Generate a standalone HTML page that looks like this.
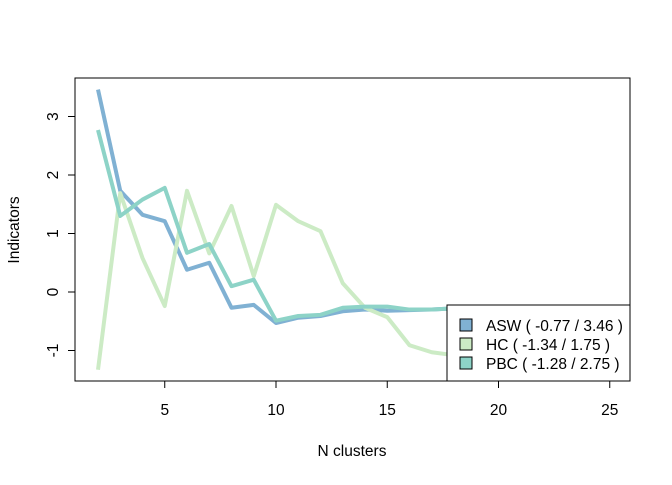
<!DOCTYPE html>
<html><head><meta charset="utf-8"><style>
body{margin:0;background:#fff}
svg text{font-family:"Liberation Sans",Arial,sans-serif;font-size:15.5px;fill:#000}
</style></head><body>
<svg id="chart" width="672" height="480" xmlns="http://www.w3.org/2000/svg">
<rect x="0" y="0" width="672" height="480" fill="#fff"/>
<g id="marks"></g>
<rect x="75" y="78" width="555" height="303" fill="none" stroke="#000"/>
<g id="axes"></g>
<text x="352" y="456" text-anchor="middle">N clusters</text>
<text transform="translate(19,230) rotate(-90)" text-anchor="middle">Indicators</text>
<g>
<rect x="447" y="305" width="183" height="76" fill="#fff" stroke="#000"/>
<g><rect x="460" y="319" width="12" height="12" fill="#80B1D3" stroke="#000"/><text x="486" y="331">ASW ( -0.77 / 3.46 )</text></g>
<g><rect x="460" y="338" width="12" height="12" fill="#CCEBC5" stroke="#000"/><text x="486" y="350">HC ( -1.34 / 1.75 )</text></g>
<g><rect x="460" y="357" width="12" height="12" fill="#8DD3C7" stroke="#000"/><text x="486" y="369">PBC ( -1.28 / 2.75 )</text></g>
</g>
</svg>
<script>
const clusters=[2,3,4,5,6,7,8,9,10,11,12,13,14,15,16,17,18,19,20,21,22,23,24,25];
const asw=[3.46,1.73,1.32,1.21,0.38,0.5,-0.27,-0.22,-0.53,-0.44,-0.41,-0.33,-0.3,-0.32,-0.31,-0.3,-0.28,-0.28,-0.27,-0.27,-0.27,-0.27,-0.27,-0.27];
const hc=[-1.33,1.69,0.58,-0.24,1.73,0.66,1.47,0.27,1.49,1.21,1.04,0.15,-0.27,-0.43,-0.91,-1.03,-1.08,-1.12,-1.15,-1.18,-1.2,-1.22,-1.24,-1.25];
const pbc=[2.77,1.3,1.58,1.78,0.67,0.82,0.1,0.21,-0.49,-0.41,-0.39,-0.27,-0.25,-0.25,-0.3,-0.3,-0.28,-0.28,-0.27,-0.27,-0.27,-0.27,-0.27,-0.27];
const xTicks=[5,10,15,20,25];
const yTicks=[-1,0,1,2,3];
const sx=v=>98+(v-2)*22.25;
const sy=v=>292-v*58.5;
const NS='http://www.w3.org/2000/svg';
const marks=document.getElementById('marks');
const axes=document.getElementById('axes');
function line(vals,color,name){
  const p=document.createElementNS(NS,'polyline');
  p.setAttribute('points',vals.map((v,i)=>sx(clusters[i])+','+sy(v)).join(' '));
  p.setAttribute('fill','none');p.setAttribute('stroke',color);p.setAttribute('stroke-width','4');
  p.setAttribute('stroke-linejoin','round');
  
  
  marks.appendChild(p);
}
line(asw,'#80B1D3','line-asw');
line(hc,'#CCEBC5','line-hc');
line(pbc,'#8DD3C7','line-pbc');
xTicks.forEach(t=>{
  const l=document.createElementNS(NS,'line');
  l.setAttribute('x1',sx(t));l.setAttribute('x2',sx(t));l.setAttribute('y1',381);l.setAttribute('y2',388);l.setAttribute('stroke','#000');
  
  
  axes.appendChild(l);
  const tx=document.createElementNS(NS,'text');
  tx.setAttribute('x',sx(t));tx.setAttribute('y',415);tx.setAttribute('text-anchor','middle');tx.textContent=t;
  
  
  axes.appendChild(tx);
});
yTicks.forEach(t=>{
  const l=document.createElementNS(NS,'line');
  l.setAttribute('x1',68);l.setAttribute('x2',75);l.setAttribute('y1',sy(t));l.setAttribute('y2',sy(t));l.setAttribute('stroke','#000');
  
  
  axes.appendChild(l);
  const tx=document.createElementNS(NS,'text');
  tx.setAttribute('transform','translate(58,'+sy(t)+') rotate(-90)');tx.setAttribute('text-anchor','middle');tx.textContent=t;
  
  
  axes.appendChild(tx);
});
</script>
</body></html>
